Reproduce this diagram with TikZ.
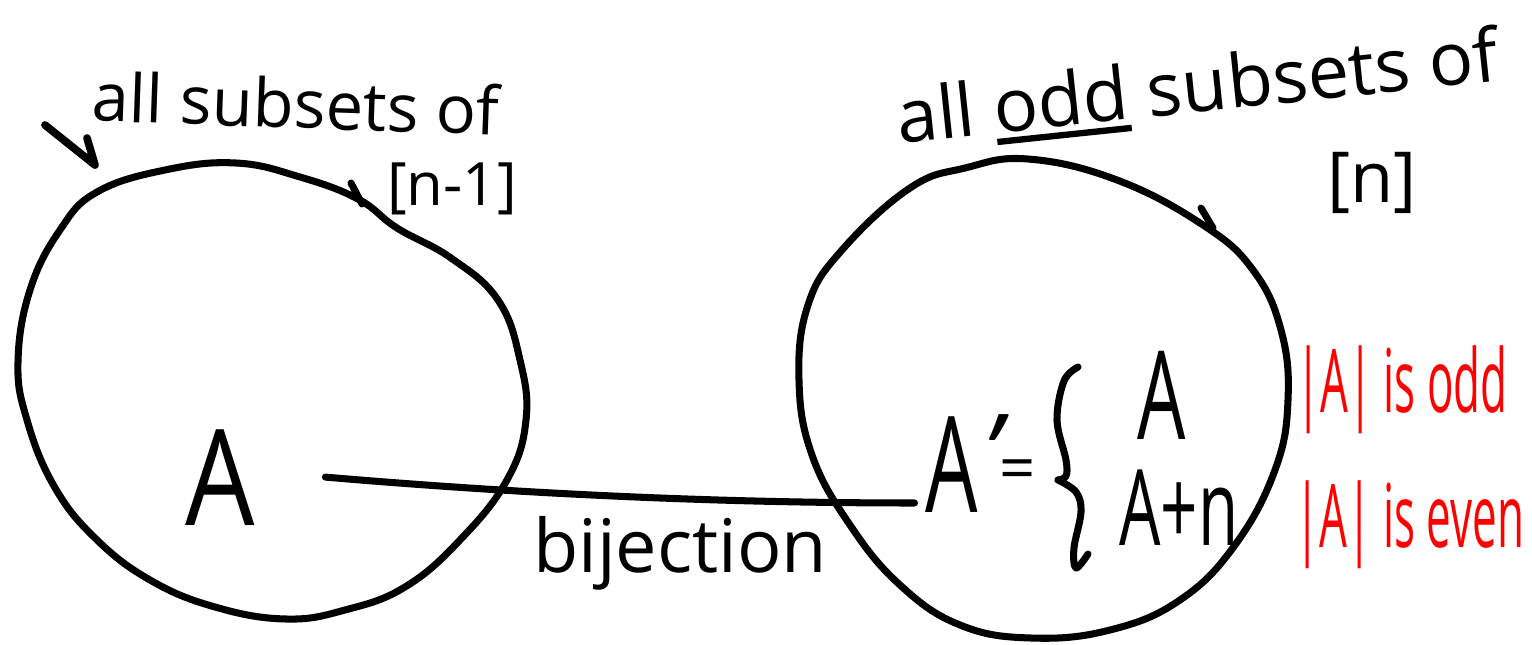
\documentclass[tikz,border=0pt]{standalone}
\usepackage{fontspec}
\setmainfont{Open Sans}
\newfontfamily\narrowfont[FakeStretch=0.5]{Open Sans}
\newfontfamily\condfont[FakeStretch=0.62]{Open Sans}
\newfontfamily\semicondfont[FakeStretch=0.82]{Open Sans}
\usetikzlibrary{positioning}
\newcommand{\handul}[1]{\leavevmode\setbox0\hbox{#1}\rlap{\rule[-0.16em]{\wd0}{1.8pt}}\box0\relax}

\begin{document}
\begin{tikzpicture}[
    x=0.01cm, y=-0.01cm,
    sketch/.style={line width=2pt, line cap=round, line join=round},
    hand/.style={inner sep=0pt, anchor=base, font=\fontsize{19}{22}\selectfont},
    letter/.style={inner sep=0pt, anchor=base, font=\fontsize{38}{40}\selectfont},
    note/.style={inner sep=0pt, text=red, font=\narrowfont\fontsize{25}{28}\selectfont}
]
\useasboundingbox (0,0) rectangle (1532,645);

% the two sets
\draw[sketch] plot[smooth cycle, tension=0.7] coordinates {(97,192) (165,170) (236,163) (300,177) (358,199) (397,228) (451,258) (498,300) (520,360) (526,420) (507,480) (460,540) (405,587) (345,610) (286,619) (215,607) (150,580) (95,538) (54,486) (27,420) (18,362) (30,290) (60,230)};
\draw[sketch] (351,183) -- (362,204);
\draw[sketch] plot[smooth cycle, tension=0.7] coordinates {(1028,159) (1117,180) (1203,225) (1253,270) (1281,330) (1288,400) (1275,470) (1235,545) (1180,600) (1110,630) (1031,638) (960,625) (900,585) (850,525) (812,455) (799,380) (808,305) (842,250) (910,188) (965,168)};
\draw[sketch] (1201,208) -- (1213,228);

% titles
\node[hand, rotate=-2] (left_title) at (295,128) {all subsets of};
\node[hand, font=\fontsize{17}{20}\selectfont] (left_range) at (452,205) {[n-1]};
\node[hand, font=\fontsize{21}{24}\selectfont, rotate=6] (right_title) at (1200,112) {all \handul{odd} subsets of};
\node[hand, font=\fontsize{20}{22}\selectfont] (right_range) at (1372,202) {[n]};

\coordinate (arrow_tail) at (45,125);
\coordinate (arrow_tip) at (95,165);
\draw[sketch, line width=2.2pt] (arrow_tail) -- (arrow_tip) -- ++(-8,-27);

% elements and the map
\node[letter, font=\semicondfont\fontsize{38}{40}\selectfont] (a) at (220,525) {A};
\node[letter, font=\condfont\fontsize{38}{40}\selectfont] (aprime) at (952,512) {A\rlap{\kern-0.06em\raisebox{-0.2em}{\fontsize{46}{48}\selectfont´}}};
\node[hand, font=\fontsize{18}{20}\selectfont] (equals) at (1018,490) {=};
\node[letter, font=\condfont\fontsize{35}{38}\selectfont] (a_upper) at (1162,439) {A};
\node[letter, font=\condfont\fontsize{30}{32}\selectfont] (a_plus_n) at (1179,545) {A+n};
\draw[sketch] plot[smooth, tension=0.6] coordinates {(1078,367) (1064,381) (1057,420) (1066,460) (1066,476) (1058,480)};
\draw[sketch] plot[smooth, tension=0.6] coordinates {(1058,480) (1076,492) (1081,512) (1074,548) (1076,568) (1088,554)};

\draw[sketch] ([xshift=0.7cm]a.east) .. controls (500,492) and (700,503) .. ([xshift=-3pt, yshift=0.09cm]aprime.base west);
\node[hand, font=\fontsize{21}{24}\selectfont] (bijection) at (680,572) {bijection};

% parity notes
\node[note] (note_odd) at (1402,390) {|A| is odd};
\node[note, below=0.45cm of note_odd.south, anchor=north, xshift=0.08cm] (note_even) {|A| is even};
\end{tikzpicture}
\end{document}
